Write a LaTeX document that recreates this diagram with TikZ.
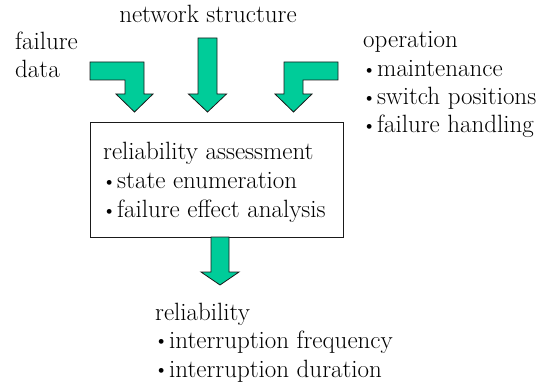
\documentclass[tikz,border=0pt]{standalone}
\usepackage{fontspec}
\usepackage{graphicx}
\definecolor{blockgreen}{HTML}{00CC99}
\definecolor{outline}{HTML}{1A1A1A}
% small bullet followed by a narrow gap, as in a slide list
\newcommand\listbul{\makebox[14pt][l]{\kern-1.5pt\raisebox{0.9pt}{\scalebox{0.85}{\textbullet}}}}
\begin{document}
\begin{tikzpicture}[x=1pt,y=-1pt,
  lbl/.style={anchor=base west,inner sep=0pt,font=\fontsize{25}{28.5}\selectfont},
  blockarrow/.style={fill=blockgreen,draw=outline,line width=0.8pt,line join=miter},
  panel/.style={draw=outline,line width=1pt,fill=white,inner sep=0pt}]
\useasboundingbox (0,0) rectangle (541,385);

% central assessment box
\node[panel,minimum width=253pt,minimum height=114pt] (assess) at (216.5,180) {};
\node[lbl] (a1) at (103,160) {reliability assessment};
\node[lbl] (a2) at (103,189) {\listbul state enumeration};
\node[lbl] (a3) at (103,218) {\listbul failure effect analysis};

% inputs
\node[lbl,anchor=base] (net) at (208,23) {network structure};
\node[lbl] (f1) at (15,50) {failure};
\node[lbl] (f2) at (15,78) {data};
\node[lbl] (o1) at (363,48) {operation};
\node[lbl] (o2) at (363,77) {\listbul maintenance};
\node[lbl] (o3) at (363,105) {\listbul switch positions};
\node[lbl] (o4) at (363,133) {\listbul failure handling};

% output
\node[lbl] (r1) at (155,320) {reliability};
\node[lbl] (r2) at (155,348) {\listbul interruption frequency};
\node[lbl] (r3) at (155,377) {\listbul interruption duration};

% bent arrow from the failure data
\draw[blockarrow] (90,62) -- (144,62) -- (144,94) -- (153,94) -- (134.5,112)
  -- (116,94) -- (125,94) -- (125,80) -- (90,80) -- cycle;
% straight arrow from the network structure
\draw[blockarrow] (198,38) -- (217,38) -- (217,94) -- (226.5,94) -- (207.5,112)
  -- (188.5,94) -- (198,94) -- cycle;
% bent arrow from the operation
\draw[blockarrow] (338,62) -- (284,62) -- (284,94) -- (275,94) -- (293.5,112)
  -- (312,94) -- (303,94) -- (303,80) -- (338,80) -- cycle;
% output arrow
\draw[blockarrow] (211,237) -- (229,237) -- (229,272) -- (239,272) -- (220,285)
  -- (201,272) -- (211,272) -- cycle;
\end{tikzpicture}
\end{document}
